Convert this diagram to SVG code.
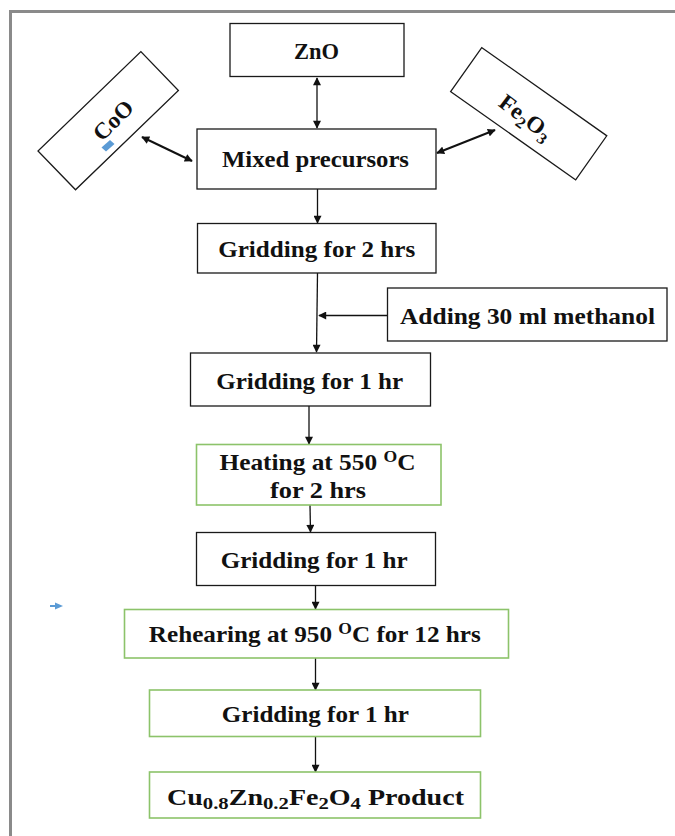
<svg xmlns="http://www.w3.org/2000/svg" width="675" height="836" viewBox="0 0 675 836">
<defs>
<style>
.box{fill:#fff;stroke:#1a1a1a;stroke-width:1.3}
.gbox{fill:#fff;stroke:#8cc36a;stroke-width:1.6}
.t{font-family:"Liberation Serif","Times New Roman",serif;font-weight:bold;font-size:23px;fill:#111;text-anchor:middle}
.c{stroke:#111;stroke-width:1.3;fill:none}
.cd{stroke:#111;stroke-width:2;fill:none}
</style>
<marker id="ah" viewBox="0 0 10 10" refX="9" refY="5" markerWidth="9" markerHeight="8" markerUnits="userSpaceOnUse" orient="auto-start-reverse">
<path d="M0,0 L10,5 L0,10 z" fill="#111"/>
</marker>
</defs>
<rect width="675" height="836" fill="#fff"/>
<path d="M10.5,836 V11.5 H675" fill="none" stroke="#8a8a8a" stroke-width="3"/>

<g id="connectors">
<line class="c" x1="317" y1="78" x2="317" y2="128" marker-start="url(#ah)" marker-end="url(#ah)"/>
<line class="cd" x1="142" y1="137" x2="192" y2="161" marker-start="url(#ah)" marker-end="url(#ah)"/>
<line class="cd" x1="437" y1="153" x2="495" y2="130" marker-start="url(#ah)" marker-end="url(#ah)"/>
<line class="c" x1="317.5" y1="189" x2="317.5" y2="223" marker-end="url(#ah)"/>
<line class="c" x1="317.5" y1="273" x2="316.5" y2="352" marker-end="url(#ah)"/>
<line class="c" x1="387" y1="315.5" x2="319" y2="315.5" marker-end="url(#ah)"/>
<line class="c" x1="309" y1="406" x2="309" y2="444" marker-end="url(#ah)"/>
<line class="c" x1="310" y1="505" x2="310.5" y2="532" marker-end="url(#ah)"/>
<line class="c" x1="315.5" y1="585" x2="315.5" y2="609" marker-end="url(#ah)"/>
<line class="c" x1="315.5" y1="658" x2="315.5" y2="690" marker-end="url(#ah)"/>
<line class="c" x1="315.5" y1="737" x2="315.5" y2="772" marker-end="url(#ah)"/>
</g>

<g id="zno">
<rect class="box" x="230" y="23.5" width="174" height="53"/>
<text class="t" x="316.5" y="59" textLength="45" lengthAdjust="spacingAndGlyphs">ZnO</text>
</g>

<g id="coo">
<rect class="box" x="-71.5" y="-27" width="143" height="54" transform="translate(108.2,120.7) rotate(-44)"/>
<text class="t" font-size="25" transform="translate(113,120) rotate(-45)" x="0" y="8" textLength="47" lengthAdjust="spacingAndGlyphs">CoO</text>
<polygon points="101.5,147.5 110,140 114.5,144 106,151.5" fill="#5b9bd5"/>
</g>

<g id="fe2o3">
<rect class="box" x="-76.5" y="-27" width="153" height="54" transform="translate(528.7,113.7) rotate(35.2)"/>
<text class="t" font-size="25" transform="translate(526,117) rotate(37)" x="0" y="8" textLength="60" lengthAdjust="spacingAndGlyphs">Fe<tspan font-size="16" dy="5">2</tspan><tspan dy="-5">O</tspan><tspan font-size="16" dy="5">3</tspan></text>
</g>

<g id="mixed">
<rect class="box" x="197" y="129" width="239" height="60"/>
<text class="t" x="315.5" y="167" textLength="187" lengthAdjust="spacingAndGlyphs">Mixed precursors</text>
</g>

<g id="grid2">
<rect class="box" x="197.5" y="223.5" width="238.5" height="49.5"/>
<text class="t" x="316.7" y="257" textLength="197" lengthAdjust="spacingAndGlyphs">Gridding for 2 hrs</text>
</g>

<g id="methanol">
<rect class="box" x="387.5" y="288" width="279.5" height="53"/>
<text class="t" x="527.5" y="323.5" textLength="255" lengthAdjust="spacingAndGlyphs">Adding 30 ml methanol</text>
</g>

<g id="grid1a">
<rect class="box" x="190.5" y="353" width="240" height="53"/>
<text class="t" x="309.7" y="388.5" textLength="187" lengthAdjust="spacingAndGlyphs">Gridding for 1 hr</text>
</g>

<g id="heating">
<rect class="gbox" x="196.5" y="444.5" width="244.5" height="60.5"/>
<text class="t" x="317.5" y="469.5" textLength="196" lengthAdjust="spacingAndGlyphs">Heating at 550 <tspan font-size="16" dy="-8">O</tspan><tspan dy="8">C</tspan></text>
<text class="t" x="318" y="497.5" textLength="96" lengthAdjust="spacingAndGlyphs">for 2 hrs</text>
</g>

<g id="grid1b">
<rect class="box" x="196.5" y="532.5" width="239" height="53"/>
<text class="t" x="314.2" y="567.5" textLength="187" lengthAdjust="spacingAndGlyphs">Gridding for 1 hr</text>
</g>

<g id="reheating">
<rect class="gbox" x="124.5" y="609.5" width="384" height="48.5"/>
<text class="t" x="314.8" y="642" textLength="332" lengthAdjust="spacingAndGlyphs">Rehearing at 950 <tspan font-size="16" dy="-8">O</tspan><tspan dy="8">C for 12 hrs</tspan></text>
</g>

<g id="grid1c">
<rect class="gbox" x="149.5" y="690" width="331" height="46.5"/>
<text class="t" x="315.3" y="722" textLength="187" lengthAdjust="spacingAndGlyphs">Gridding for 1 hr</text>
</g>

<g id="product">
<rect class="gbox" x="149.5" y="772" width="331" height="46"/>
<text class="t" x="315.5" y="804.5" font-size="28" textLength="297" lengthAdjust="spacingAndGlyphs">Cu<tspan font-size="17" dy="4">0.8</tspan><tspan dy="-4">Zn</tspan><tspan font-size="17" dy="4">0.2</tspan><tspan dy="-4">Fe</tspan><tspan font-size="17" dy="4">2</tspan><tspan dy="-4">O</tspan><tspan font-size="17" dy="4">4</tspan><tspan dy="-4"> Product</tspan></text>
</g>

<g id="blue-arrow">
<rect x="50" y="605" width="6" height="2" fill="#5b9bd5"/>
<polygon points="55,602.5 63,606 55,609.5" fill="#5b9bd5"/>
</g>
</svg>
